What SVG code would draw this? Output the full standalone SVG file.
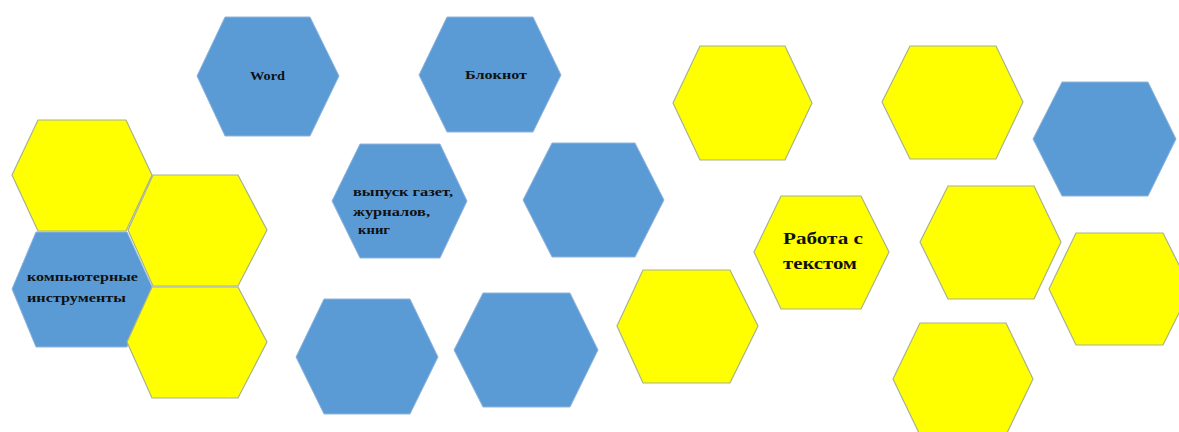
<svg xmlns="http://www.w3.org/2000/svg" width="1179" height="432" viewBox="0 0 1179 432">
<style>
.b{fill:#5B9BD5;stroke:#8fb4dc;stroke-width:1}
.y{fill:#FFFF00;stroke:#a8b38c;stroke-width:1.2}
.t{font-family:"Liberation Serif","Times New Roman",serif;font-weight:bold;fill:#111;font-size:13px}
.tl{font-family:"Liberation Serif","Times New Roman",serif;font-weight:bold;fill:#111;font-size:17px}
</style>
<rect width="1179" height="432" fill="#fff"/>
<g id="n-word"><polygon class="b" points="197,76 225,17 310,17 339,76 310,136 225,136"/><text class="t" x="250" y="80" textLength="35" lengthAdjust="spacingAndGlyphs">Word</text></g>
<g id="n-bloknot"><polygon class="b" points="419,75 447,17 533,17 561,75 533,132 447,132"/><text class="t" x="465" y="79" textLength="62" lengthAdjust="spacingAndGlyphs">Блокнот</text></g>
<g id="n-yA"><polygon class="y" points="12,175 38,120 126,120 152,175 126,231 38,231"/></g>
<g id="n-yB"><polygon class="y" points="128,230 153,175 238,175 267,230 238,286 153,286"/></g>
<g id="n-comp"><polygon class="b" points="12,289 36,232 127,232 153,289 127,347 36,347"/><text class="t" x="27" y="281" textLength="111" lengthAdjust="spacingAndGlyphs">компьютерные</text><text class="t" x="27" y="302" textLength="99" lengthAdjust="spacingAndGlyphs">инструменты</text></g>
<g id="n-yD"><polygon class="y" points="127,342 152,287 238,287 267,342 238,398 152,398"/></g>
<g id="n-vypusk"><polygon class="b" points="332,201 360,144 440,144 467,201 440,258 360,258"/><text class="t" x="353" y="196" textLength="100" lengthAdjust="spacingAndGlyphs">выпуск газет,</text><text class="t" x="353" y="216" textLength="77" lengthAdjust="spacingAndGlyphs">журналов,</text><text class="t" x="358" y="234" textLength="32" lengthAdjust="spacingAndGlyphs">книг</text></g>
<g id="n-bE"><polygon class="b" points="523,200 552,143 635,143 664,200 635,257 552,257"/></g>
<g id="n-bH"><polygon class="b" points="296,357 324,299 410,299 438,357 410,414 324,414"/></g>
<g id="n-bI"><polygon class="b" points="454,350 483,293 570,293 598,350 570,407 483,407"/></g>
<g id="n-yF"><polygon class="y" points="673,103 700,46 785,46 812,103 785,160 700,160"/></g>
<g id="n-yG"><polygon class="y" points="617,326 643,270 730,270 758,326 730,383 643,383"/></g>
<g id="n-rabota"><polygon class="y" points="754,252 781,196 861,196 889,252 861,309 781,309"/><text class="tl" x="783" y="244" textLength="80" lengthAdjust="spacingAndGlyphs">Работа с</text><text class="tl" x="783" y="269" textLength="74" lengthAdjust="spacingAndGlyphs">текстом</text></g>
<g id="n-yJ"><polygon class="y" points="882,102 910,46 996,46 1023,102 996,159 910,159"/></g>
<g id="n-bK"><polygon class="b" points="1033,139 1062,82 1148,82 1176,139 1148,196 1062,196"/></g>
<g id="n-yL"><polygon class="y" points="920,242 948,186 1034,186 1061,242 1034,299 948,299"/></g>
<g id="n-yM"><polygon class="y" points="1049,289 1076,233 1163,233 1191,289 1163,345 1076,345"/></g>
<g id="n-yN"><polygon class="y" points="893,379 920,323 1006,323 1033,379 1006,435 920,435"/></g>
<g id="connectors"></g>
</svg>
